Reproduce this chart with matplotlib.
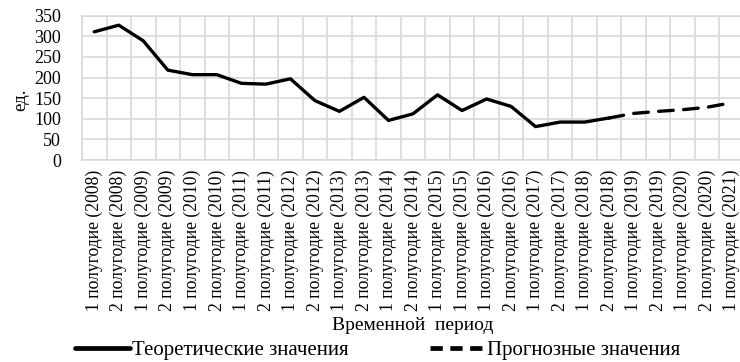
import numpy as np
import matplotlib.pyplot as plt
from matplotlib.lines import Line2D
from matplotlib.ticker import MultipleLocator

plt.rcParams['font.family'] = ['Liberation Serif', 'DejaVu Serif']

periods = ["1 полугодие (2008)", "2 полугодие (2008)", "1 полугодие (2009)", "2 полугодие (2009)",
           "1 полугодие (2010)", "2 полугодие (2010)", "1 полугодие (2011)", "2 полугодие (2011)",
           "1 полугодие (2012)", "2 полугодие (2012)", "1 полугодие (2013)", "2 полугодие (2013)",
           "1 полугодие (2014)", "2 полугодие (2014)", "1 полугодие (2015)", "1 полугодие (2015)",
           "1 полугодие (2016)", "2 полугодие (2016)", "1 полугодие (2017)", "2 полугодие (2017)",
           "1 полугодие (2018)", "2 полугодие (2018)", "1 полугодие (2019)", "2 полугодие (2019)",
           "1 полугодие (2020)", "2 полугодие (2020)", "1 полугодие (2021)"]

# теоретические значения (до 2 полугодия 2018 г.)
theory = [311, 327, 289, 218, 207, 207, 186, 184, 197, 144, 118, 152, 96, 112,
          158, 120, 148, 130, 81, 92, 92, 102]
# прогноз (начиная с последней точки модели)
forecast = [102, 113, 118, 122, 128, 139]

x = np.arange(len(periods))
x_theory = x[:len(theory)]
x_forecast = x[len(theory) - 1:]

fig = plt.figure(figsize=(7.4, 3.62), dpi=100)
ax = fig.add_axes([0.1108, 0.558, 0.8946, 0.3986])

ax.plot(x_theory, theory, color='black', lw=2.4, solid_capstyle='round',
        solid_joinstyle='round')
ax.plot(x_forecast, forecast, color='black', lw=2.4, dashes=(4.4, 3.1),
        dash_capstyle='round')

ax.set_xlim(-0.5, len(periods) - 0.5)
ax.set_ylim(0, 350)
ax.yaxis.set_major_locator(MultipleLocator(50))
ax.set_xticks(x)
ax.set_xticklabels(periods, rotation=90, fontsize=12.7)
ax.set_xticks(np.arange(-0.5, len(periods), 1), minor=True)
ax.tick_params(axis='y', labelsize=13, length=0, pad=15)
ax.tick_params(axis='x', which='both', length=0, pad=7)

ax.grid(axis='y', which='major', color='#d9d9d9', lw=1.2)
ax.grid(axis='x', which='minor', color='#d9d9d9', lw=1.2)
ax.set_axisbelow(True)
for s in ax.spines.values():
    s.set_color('#d9d9d9')
    s.set_linewidth(1.2)

ax.set_ylabel('ед.', fontsize=13.5, labelpad=0)
ax.yaxis.set_label_coords(-0.08, 0.42)
ax.set_xlabel('Временной  период', fontsize=14, labelpad=4)

handles = [Line2D([], [], color='black', lw=3.4, solid_capstyle='round'),
           Line2D([], [], color='black', lw=3.4, dashes=(2.6, 1.6), dash_capstyle='butt')]
labels = ['Теоретические значения', 'Прогнозные значения']
fig.legend(handles, labels, loc='center left', bbox_to_anchor=(75 / 740, 12 / 362),
           ncol=2, frameon=False, fontsize=15, handlelength=2.65, handletextpad=0.1,
           columnspacing=3.9, borderpad=0, borderaxespad=0)

fig.savefig('out.png', dpi=100)
